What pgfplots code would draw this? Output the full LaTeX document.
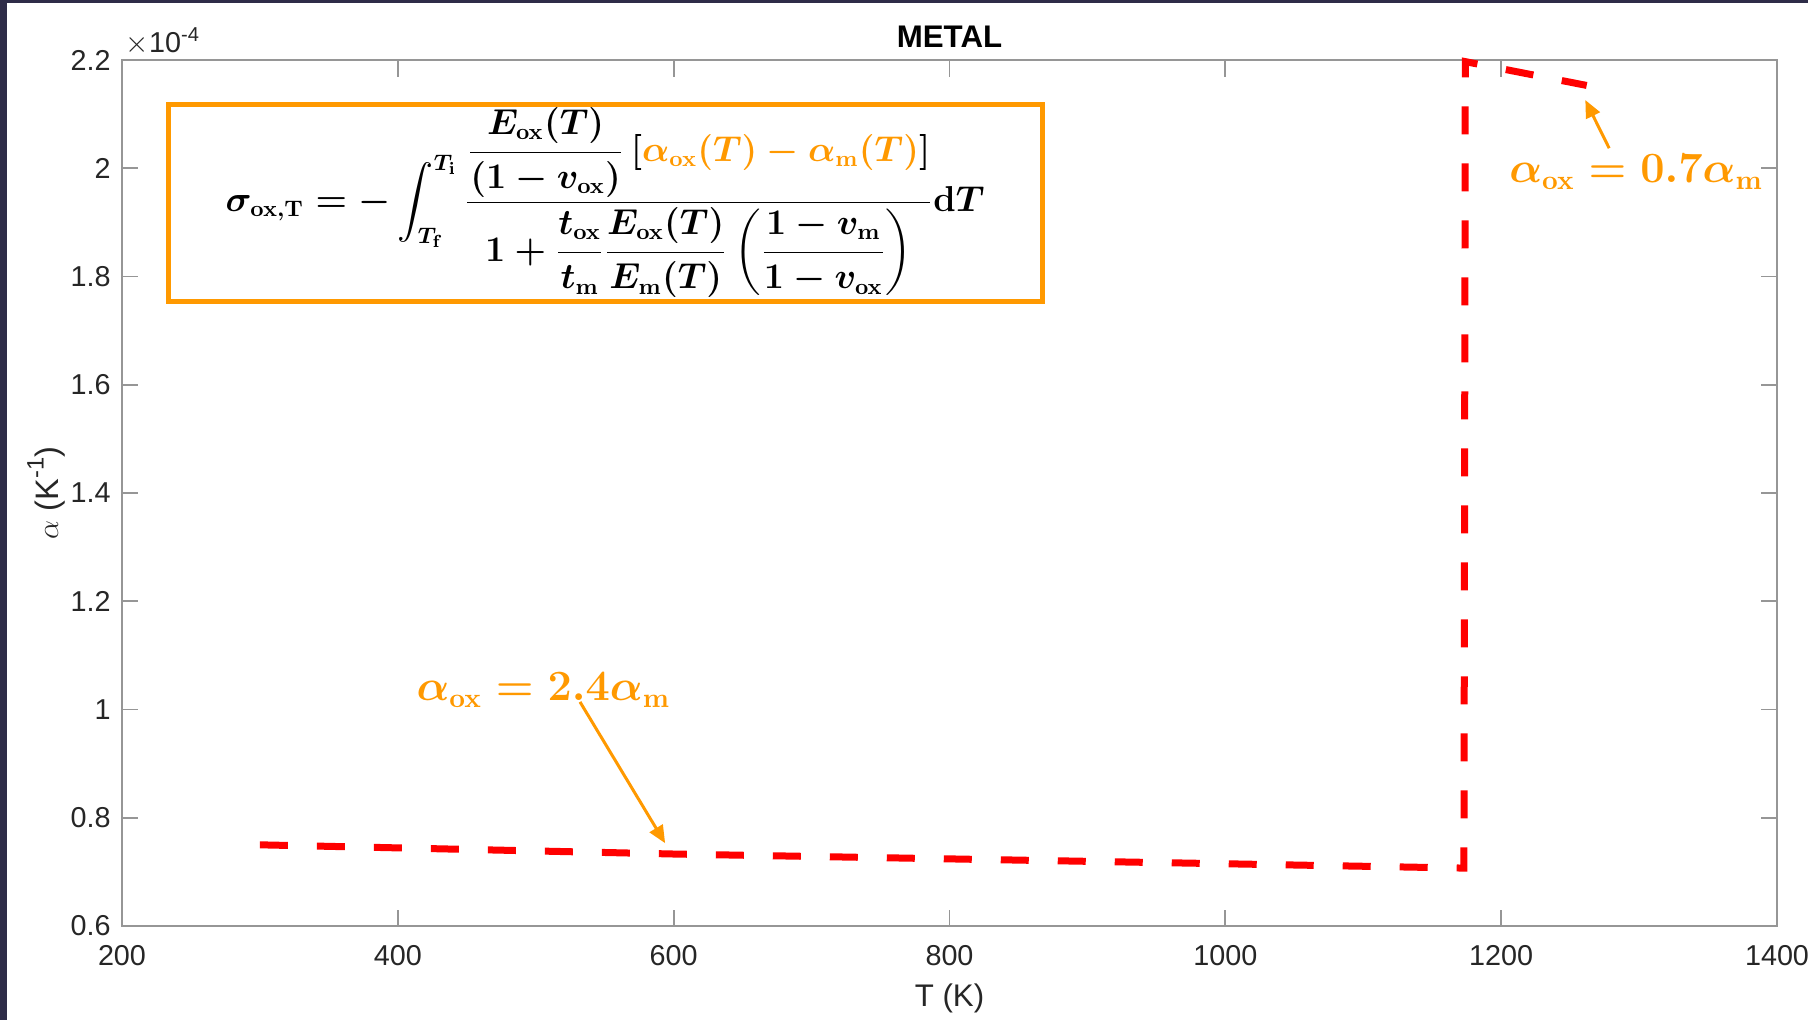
\documentclass[border=0pt]{standalone}
\usepackage[no-math]{fontspec}
\setmainfont{Liberation Sans}
\usepackage{amsmath}
\usepackage{graphicx}
\usepackage{pgfplots}
\pgfplotsset{compat=1.18}
\usetikzlibrary{arrows.meta}
\definecolor{bgdark}{RGB}{46,44,72}
\definecolor{orng}{RGB}{255,153,0}
\definecolor{axgray}{RGB}{150,150,150}
\definecolor{txt}{RGB}{38,38,38}
\newcommand{\bigformula}{\mbox{\boldmath$\displaystyle
\sigma_{\mathrm{ox,T}} = -\int_{T_{\mathrm{f}}}^{T_{\mathrm{i}}}
\frac{\dfrac{E_{\mathrm{ox}}(T)}{(1-v_{\mathrm{ox}})}\left[\textcolor{orng}{\alpha_{\mathrm{ox}}(T)-\alpha_{\mathrm{m}}(T)}\right]}
{1+\dfrac{t_{\mathrm{ox}}}{t_{\mathrm{m}}}\dfrac{E_{\mathrm{ox}}(T)}{E_{\mathrm{m}}(T)}\left(\dfrac{1-v_{\mathrm{m}}}{1-v_{\mathrm{ox}}}\right)}\mathrm{d}T$}}
\newcommand{\annA}{\mbox{\boldmath$\alpha_{\mathrm{ox}}=\mathbf{2.4}\alpha_{\mathrm{m}}$}}
\newcommand{\annB}{\mbox{\boldmath$\alpha_{\mathrm{ox}}=\mathbf{0.7}\alpha_{\mathrm{m}}$}}
\begin{document}
\begin{tikzpicture}
\fill[bgdark] (-48.8pt,-37.6pt) rectangle (674.4pt,370.4pt);
\fill[white] (-46.0pt,-37.6pt) rectangle (674.4pt,369.2pt);
\begin{axis}[
  at={(0,0)}, anchor=south west,
  scale only axis, width=662pt, height=346.4pt,
  xmin=200, xmax=1400, ymin=0.6, ymax=2.2,
  xtick={200,400,600,800,1000,1200,1400},
  xticklabels={200,400,600,800,1000,1200,1400},
  ytick={0.6,0.8,1,1.2,1.4,1.6,1.8,2,2.2},
  yticklabels={0.6,0.8,1,1.2,1.4,1.6,1.8,2,2.2},
  tick align=inside, major tick length=6.6pt,
  axis line style={draw=axgray, line width=0.7pt},
  tick style={draw=axgray, line width=0.7pt},
  ticklabel style={font=\fontsize{11.5}{13}\selectfont, text=txt},
  xticklabel style={yshift=-4.2pt},
  yticklabel style={xshift=-1pt},
  clip=false,
  xlabel={T (K)},
  ylabel={$\alpha$ (K\raisebox{0.45em}{\fontsize{9.5}{11}\selectfont -1})},
  every axis x label/.style={at={(axis description cs:0.5,-0.0935)}, anchor=base, font=\fontsize{12.5}{15}\selectfont, text=txt},
  every axis y label/.style={at={(axis description cs:-0.0459,0.5)}, anchor=center, rotate=90, font=\fontsize{13}{15}\selectfont, text=txt},
]
\addplot[red, line width=2.8pt, dash pattern=on 11.2pt off 11.6pt, line join=miter] coordinates {
 (300,0.750) (600,0.733) (1000,0.715) (1173,0.707) (1174,2.197) (1200,2.184) (1262,2.153)
};
\coordinate (tt) at (axis description cs:0.5,1.015);
\coordinate (sc) at (axis description cs:-0.003,1.0092);
\coordinate (b1) at (axis cs:233.4,1.7547);
\coordinate (b2) at (axis cs:867.2,2.1187);
\coordinate (fc) at (axis cs:550.3,1.9367);
\coordinate (ta) at (axis cs:505.6,1.036);
\coordinate (tb) at (axis cs:1297.9,1.993);
\coordinate (a1s) at (axis cs:532.1,1.014);
\coordinate (a1e) at (axis cs:593.8,0.753);
\coordinate (a2s) at (axis cs:1278.3,2.037);
\coordinate (a2e) at (axis cs:1261,2.126);
\end{axis}
\node[anchor=base, font=\fontsize{12.5}{15}\selectfont\bfseries] at (tt) {METAL};
\node[anchor=base west, text=txt, font=\fontsize{11.5}{13}\selectfont] at (sc) {$\times$10\textsuperscript{-4}};
\draw[orng, line width=2pt] (b1) rectangle (b2);
\node[font=\fontsize{13.3}{16}\selectfont] at (fc) {\bigformula};
\node[text=orng, font=\fontsize{16.2}{19}\selectfont] at (ta) {\annA};
\node[text=orng, font=\fontsize{16.2}{19}\selectfont] at (tb) {\annB};
\draw[orng, line width=1.2pt, -{Triangle[length=7pt,width=6pt]}] (a1s) -- (a1e);
\draw[orng, line width=1.2pt, -{Triangle[length=7pt,width=6pt]}] (a2s) -- (a2e);
\pgfresetboundingbox
\path[use as bounding box] (-48.8pt,-37.6pt) rectangle (674.4pt,370.4pt);
\end{tikzpicture}
\end{document}
